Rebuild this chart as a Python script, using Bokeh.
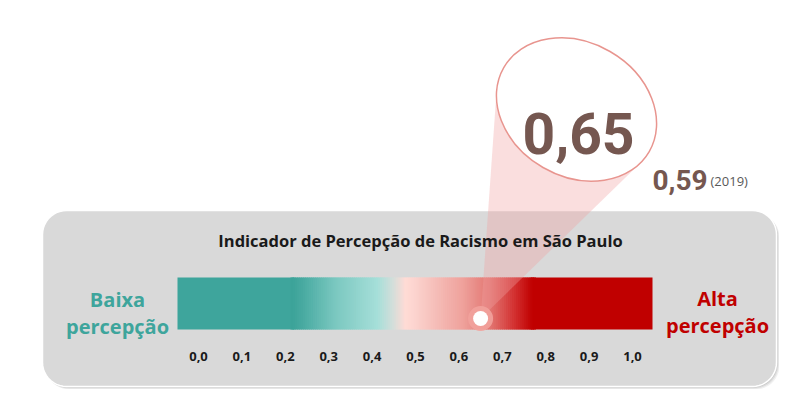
import numpy as np
from bokeh.plotting import figure
from bokeh.models import Range1d
from bokeh.core.properties import value
from bokeh.embed import file_html
from bokeh.resources import INLINE

# ---------------- data ----------------
tick_values = [0.0, 0.1, 0.2, 0.3, 0.4, 0.5, 0.6, 0.7, 0.8, 0.9, 1.0]
tick_labels = ["0,0", "0,1", "0,2", "0,3", "0,4", "0,5", "0,6", "0,7", "0,8", "0,9", "1,0"]
current_value = 0.65
current_label = "0,65"
previous_value = 0.59
previous_label = "0,59"
previous_year = "(2019)"
title_text = "Indicador de Percepção de Racismo em São Paulo"
low_words = ["Baixa", "percepção"]
high_words = ["Alta", "percepção"]

# ---------------- layout helpers ----------------
W, H = 779, 389
X0 = 198          # pixel of value 0
PX = 434          # pixels per indicator unit


def dx(s):
    return (s - X0) / PX


def dy(s):
    return H - s


def sx_of(v):
    return X0 + v * PX


p = figure(width=W, height=H, output_backend="svg", toolbar_location=None,
           x_range=Range1d(dx(0), dx(W)), y_range=Range1d(0, H),
           min_border=0, min_border_left=0, min_border_right=0,
           min_border_top=0, min_border_bottom=0)
p.axis.visible = False
p.grid.visible = False
p.outline_line_color = None
p.background_fill_color = "white"
p.border_fill_color = "white"


def rrect(l, t, r, b, rad, n=12):
    pts = []
    corners = [(r - rad, t + rad, -90, 0), (r - rad, b - rad, 0, 90),
               (l + rad, b - rad, 90, 180), (l + rad, t + rad, 180, 270)]
    for cx, cy, a0, a1 in corners:
        for a in np.linspace(np.radians(a0), np.radians(a1), n):
            pts.append((cx + rad * np.cos(a), cy + rad * np.sin(a)))
    xs = [dx(x) for x, _ in pts]
    ys = [dy(y) for _, y in pts]
    return xs, ys


# shadow + grey panel
for off, alpha in [(3, 0.06), (2, 0.08), (1, 0.10)]:
    xs, ys = rrect(42 + off, 210 + off, 776 + off, 386 + off, 24)
    p.patch(xs, ys, fill_color="black", fill_alpha=alpha, line_color=None)
xs, ys = rrect(42, 210, 776, 386, 24)
p.patch(xs, ys, fill_color="#D9D9D9", line_color="white", line_width=1.5)

# gradient bar
bar_l, bar_r, bar_t, bar_b = 177, 652, 277, 329
stops = [(177, "#3EA59C"), (292, "#3CA399"), (302, "#48AAA1"), (335, "#7BC8C0"),
         (377, "#A6DFD9"), (392, "#D2DEDA"), (405, "#FFDBD5"), (414, "#FCD4CF"),
         (440, "#F4B8B3"), (462, "#EFA29C"), (490, "#E27571"), (515, "#D22E2E"),
         (532, "#C00000"), (652, "#C00000")]


def hex2rgb(h):
    return np.array([int(h[i:i + 2], 16) for i in (1, 3, 5)], dtype=float)


sp = np.array([s for s, _ in stops], dtype=float)
sc = np.array([hex2rgb(c) for _, c in stops])
# solid ends
p.quad(left=[dx(bar_l)], right=[dx(294)], top=dy(bar_t), bottom=dy(bar_b),
       fill_color="#3EA59C", line_color=None)
p.quad(left=[dx(530)], right=[dx(bar_r)], top=dy(bar_t), bottom=dy(bar_b),
       fill_color="#C00000", line_color=None)
N = 120
edges = np.linspace(290, 534, N + 1)
mids = 0.5 * (edges[:-1] + edges[1:])
cols = []
for m in mids:
    rgb = [np.interp(m, sp, sc[:, k]) for k in range(3)]
    cols.append("#%02x%02x%02x" % tuple(int(round(c)) for c in rgb))
p.quad(left=[dx(e) for e in edges[:-1]], right=[dx(e + 1.5) for e in edges[1:]],
       top=dy(bar_t), bottom=dy(bar_b), fill_color=cols, line_color=None)

# cone from ellipse to marker
ecx, ecy, ea, eb, eth = 576, 109, 84, 67, np.radians(30)
t = np.linspace(0, 2 * np.pi, 200, endpoint=False)
ex = ecx + ea * np.cos(t) * np.cos(eth) - eb * np.sin(t) * np.sin(eth)
ey = ecy + ea * np.cos(t) * np.sin(eth) + eb * np.sin(t) * np.cos(eth)
mx, my = sx_of(current_value), 318
pts = sorted(set([(round(a, 3), round(b, 3)) for a, b in zip(ex, ey)] + [(mx, my)]))


def cross(o, a, b):
    return (a[0] - o[0]) * (b[1] - o[1]) - (a[1] - o[1]) * (b[0] - o[0])


lower, upper = [], []
for pt in pts:
    while len(lower) >= 2 and cross(lower[-2], lower[-1], pt) <= 0:
        lower.pop()
    lower.append(pt)
for pt in reversed(pts):
    while len(upper) >= 2 and cross(upper[-2], upper[-1], pt) <= 0:
        upper.pop()
    upper.append(pt)
hull = lower[:-1] + upper[:-1]
p.patch([dx(a) for a, _ in hull], [dy(b) for _, b in hull],
        fill_color="#F0A0A0", fill_alpha=0.35, line_color=None)

# title
p.text(x=[dx(420)], y=[dy(240)], text=[title_text], text_font=value("Open Sans"),
       text_font_style="bold", text_font_size="16.5px", text_color="#1A1A1A",
       text_align="center", text_baseline="alphabetic")

# tick labels
p.text(x=tick_values, y=[dy(356)] * len(tick_values), text=tick_labels,
       text_font=value("Open Sans"), text_font_style="bold", text_font_size="13px",
       text_color="#1A1A1A", text_align="center", text_baseline="alphabetic")

# side labels
p.text(x=[dx(117), dx(117)], y=[dy(299), dy(326)], text=low_words,
       text_font=value("Open Sans"), text_font_style="bold", text_font_size="20px",
       text_color="#3EA59C", text_align="center", text_baseline="alphabetic")
p.text(x=[dx(717), dx(717)], y=[dy(298), dy(325)], text=high_words,
       text_font=value("Open Sans"), text_font_style="bold", text_font_size="20px",
       text_color="#C00000", text_align="center", text_baseline="alphabetic")

# marker
p.scatter(x=[current_value], y=[dy(my)], size=25, fill_color="#F2A29C", fill_alpha=0.9,
          line_color=None)
p.scatter(x=[current_value], y=[dy(my)], size=15, fill_color="white", line_color=None)

# ellipse
p.ellipse(x=[dx(ecx)], y=[dy(ecy)], width=2 * ea, height=2 * eb,
          width_units="screen", height_units="screen", angle=-eth,
          fill_color="white", line_color="#E8958F", line_width=1.5)

# big value
p.text(x=[dx(578)], y=[dy(133)], text=[current_label],
       text_font=value("Roboto"), text_font_style="bold",
       text_font_size="57px", text_color="#755750",
       text_align="center", text_baseline="alphabetic")

# previous value
p.text(x=[dx(652)], y=[dy(179)], text=[previous_label],
       text_font=value("Roboto"), text_font_style="bold",
       text_font_size="28px", text_color="#755750",
       text_align="left", text_baseline="alphabetic")
p.text(x=[dx(710)], y=[dy(180)], text=[previous_year],
       text_font=value("Open Sans"), text_font_size="13px", text_color="#595959",
       text_align="left", text_baseline="alphabetic")

open("out.html", "w").write(file_html(p, INLINE))
